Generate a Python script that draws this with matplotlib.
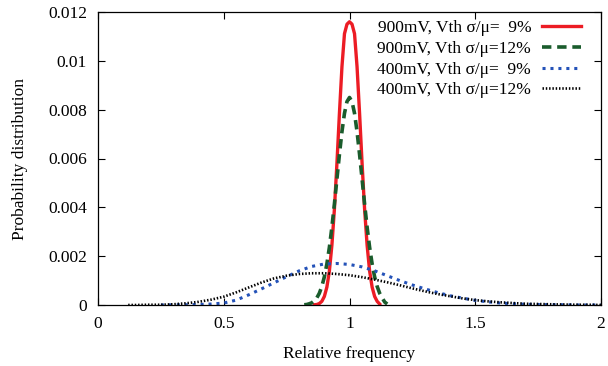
import matplotlib
matplotlib.use("Agg")
import matplotlib.pyplot as plt

# ---- data ----
red_x = [0.86, 0.87, 0.88, 0.89, 0.90, 0.91, 0.92, 0.93, 0.94, 0.95, 0.96, 0.97, 0.98, 0.99, 1.00,
         1.01, 1.02, 1.03, 1.04, 1.05, 1.06, 1.07, 1.08, 1.09, 1.10, 1.11, 1.12]
red_y = [0.00001, 0.00002, 0.00006, 0.00015, 0.00035, 0.00073, 0.00139, 0.00245, 0.00393, 0.00580,
         0.00786, 0.00976, 0.01111, 0.01150, 0.01160,
         0.01150, 0.01111, 0.00976, 0.00786, 0.00580, 0.00393, 0.00245, 0.00139, 0.00073, 0.00035,
         0.00015, 0.00004]

green_x = [0.82, 0.83, 0.84, 0.85, 0.86, 0.87, 0.88, 0.89, 0.90, 0.91, 0.92, 0.93, 0.94, 0.95, 0.96,
           0.97, 0.98, 0.99, 1.00, 1.01, 1.02, 1.03, 1.04, 1.05, 1.06, 1.07, 1.08, 1.09, 1.10, 1.11,
           1.12, 1.13, 1.14, 1.15]
green_y = [0.00001, 0.00002, 0.00005, 0.00009, 0.00017, 0.00029, 0.00048, 0.00076, 0.00115, 0.00168,
           0.00236, 0.00319, 0.00414, 0.00516, 0.00617, 0.00710, 0.00785, 0.00833, 0.00850, 0.00833,
           0.00785, 0.00710, 0.00617, 0.00516, 0.00414, 0.00319, 0.00236, 0.00168, 0.00115, 0.00076,
           0.00048, 0.00029, 0.00012, 0.00004]

blue_x = [0.25, 0.30, 0.35, 0.40, 0.45, 0.50, 0.55, 0.60, 0.65, 0.70, 0.75, 0.80, 0.85, 0.90, 0.95,
          1.00, 1.05, 1.10, 1.15, 1.20, 1.25, 1.30, 1.35, 1.40, 1.45, 1.50, 1.55, 1.60, 1.65, 1.70,
          1.75, 1.80, 1.85, 1.90, 1.95, 2.00]
blue_y = [0.0, 0.00001, 0.00001, 0.00002, 0.00004, 0.00008, 0.00020, 0.00042, 0.00066, 0.00091,
          0.00116, 0.00140, 0.00158, 0.00168, 0.00170, 0.00166, 0.00156, 0.00140, 0.00120, 0.00100,
          0.00082, 0.00066, 0.00051, 0.00038, 0.00028, 0.00019, 0.00013, 0.00008, 0.00005, 0.00003,
          0.00002, 0.00001, 0.00001, 0.0, 0.0, 0.0]

black_x = [0.12, 0.15, 0.20, 0.25, 0.30, 0.35, 0.40, 0.45, 0.50, 0.55, 0.60, 0.65, 0.70, 0.75, 0.80,
           0.85, 0.90, 0.95, 1.00, 1.05, 1.10, 1.15, 1.20, 1.25, 1.30, 1.35, 1.40, 1.45, 1.50, 1.55,
           1.60, 1.65, 1.70, 1.75, 1.80, 1.85, 1.90, 1.95, 2.00]
black_y = [0.0, 0.0, 0.00001, 0.00001, 0.00003, 0.00007, 0.00013, 0.00022, 0.00034, 0.00052, 0.00072,
           0.00092, 0.00109, 0.00120, 0.00127, 0.00130, 0.00130, 0.00127, 0.00122, 0.00114, 0.00104,
           0.00093, 0.00081, 0.00068, 0.00056, 0.00045, 0.00036, 0.00027, 0.00020, 0.00015, 0.00011,
           0.00008, 0.00005, 0.00004, 0.00003, 0.00002, 0.00001, 0.00001, 0.0]

labels = ["900mV, Vth σ/μ=  9%", "900mV, Vth σ/μ=12%",
          "400mV, Vth σ/μ=  9%", "400mV, Vth σ/μ=12%"]
x_ticks = [0, 0.5, 1, 1.5, 2]
x_tick_labels = ["0", "0.5", "1", "1.5", "2"]
y_ticks = [0, 0.002, 0.004, 0.006, 0.008, 0.01, 0.012]
y_tick_labels = ["0", "0.002", "0.004", "0.006", "0.008", "0.01", "0.012"]

FS = 12.5
plt.rcParams['font.family'] = ['Liberation Serif', 'DejaVu Serif']
plt.rcParams['font.size'] = FS

fig = plt.figure(figsize=(6.08, 3.66), dpi=100)
ax = fig.add_axes([98/608, 61/366, 503/608, 293/366])

ax.plot(red_x, red_y, color='#ec1c24', lw=2.4, linestyle='-', label=labels[0])
ax.plot(green_x, green_y, color='#1a5c2c', lw=2.6, linestyle=(0, (2.6, 1.6)), label=labels[1])
ax.plot(blue_x, blue_y, color='#2452b8', lw=2.2, linestyle=(0, (1.0, 1.6)), label=labels[2])
ax.plot(black_x, black_y, color='black', lw=1.9, linestyle=(0, (0.55, 0.7)), label=labels[3])

ax.set_xlim(0, 2)
ax.set_ylim(0, 0.012)
ax.set_xticks(x_ticks)
ax.set_xticklabels(x_tick_labels)
ax.set_yticks(y_ticks)
ax.set_yticklabels(y_tick_labels)
ax.tick_params(direction='in', length=5, width=0.8, top=True, right=True, labelsize=FS, pad=8)
for s in ax.spines.values():
    s.set_linewidth(0.9)

ax.set_xlabel("Relative frequency", fontsize=FS, labelpad=10)
ax.set_ylabel("Probability distribution", fontsize=FS, labelpad=14)

leg = ax.legend(loc='upper right', frameon=False, markerfirst=False, fontsize=FS,
                handlelength=2.3, handletextpad=0.6, labelspacing=0.27,
                borderaxespad=0.0, bbox_to_anchor=(0.975, 0.997))

fig.savefig("out.png", dpi=100)
